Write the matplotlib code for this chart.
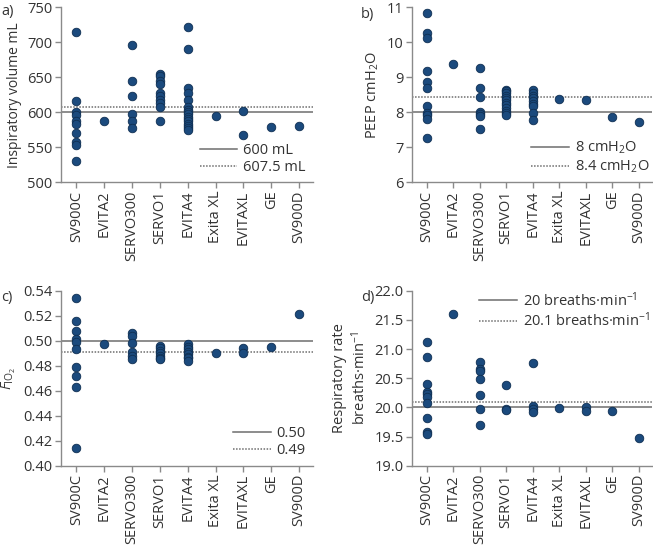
import matplotlib
matplotlib.use("Agg")
import matplotlib.pyplot as plt
from matplotlib.lines import Line2D

plt.rcParams['font.family'] = ['Open Sans', 'DejaVu Sans']
plt.rcParams['mathtext.fontset'] = 'custom'
plt.rcParams['mathtext.rm'] = 'Open Sans'
plt.rcParams['mathtext.it'] = 'Open Sans:italic'

categories = ["SV900C", "EVITA2", "SERVO300", "SERVO1", "EVITA4",
              "Exita XL", "EVITAXL", "GE", "SV900D"]

# a) Inspiratory volume (mL)
vol = {
    "SV900C": [715, 616, 600, 596, 588, 583, 571, 557, 553, 530],
    "EVITA2": [587],
    "SERVO300": [696, 645, 623, 597, 588, 577],
    "SERVO1": [655, 652, 645, 641, 628, 624, 618, 613, 608, 587],
    "EVITA4": [722, 690, 635, 628, 618, 607, 604, 600, 597, 594, 590, 587, 584, 580, 577, 575],
    "Exita XL": [595],
    "EVITAXL": [602, 567],
    "GE": [579],
    "SV900D": [581],
}
vol_ref = [600, 607.5]
vol_ref_labels = ["600 mL", "607.5 mL"]

# b) PEEP (cmH2O)
peep = {
    "SV900C": [10.85, 10.27, 10.12, 9.18, 8.88, 8.70, 8.18, 7.98, 7.92, 7.82, 7.27],
    "EVITA2": [9.38],
    "SERVO300": [9.28, 8.69, 8.45, 8.02, 7.95, 7.89, 7.52],
    "SERVO1": [8.65, 8.60, 8.55, 8.48, 8.42, 8.35, 8.28, 8.20, 8.12, 8.05, 7.98, 7.93],
    "EVITA4": [8.63, 8.56, 8.48, 8.40, 8.32, 8.24, 8.17, 7.97, 7.79],
    "Exita XL": [8.39],
    "EVITAXL": [8.34],
    "GE": [7.88],
    "SV900D": [7.71],
}
peep_ref = [8.0, 8.44]
peep_ref_labels = ["8 cmH$_2$O", "8.4 cmH$_2$O"]

# c) FiO2
fio2 = {
    "SV900C": [0.534, 0.516, 0.508, 0.501, 0.499, 0.493, 0.479, 0.472, 0.463, 0.414],
    "EVITA2": [0.497],
    "SERVO300": [0.506, 0.504, 0.498, 0.491, 0.488, 0.485],
    "SERVO1": [0.496, 0.494, 0.492, 0.490, 0.488, 0.486, 0.485],
    "EVITA4": [0.497, 0.495, 0.493, 0.491, 0.489, 0.487, 0.486, 0.484],
    "Exita XL": [0.490],
    "EVITAXL": [0.494, 0.490],
    "GE": [0.495],
    "SV900D": [0.521],
}
fio2_ref = [0.500, 0.491]
fio2_ref_labels = ["0.50", "0.49"]

# d) Respiratory rate (breaths/min)
rr = {
    "SV900C": [21.12, 20.87, 20.40, 20.27, 20.23, 20.17, 20.07, 19.82, 19.58, 19.55],
    "EVITA2": [21.6],
    "SERVO300": [20.77, 20.66, 20.62, 20.49, 20.21, 19.98, 19.70],
    "SERVO1": [20.38, 19.98, 19.95],
    "EVITA4": [20.76, 20.02, 19.97, 19.92],
    "Exita XL": [19.99],
    "EVITAXL": [20.00, 19.93],
    "GE": [19.93],
    "SV900D": [19.48],
}
rr_ref = [20.0, 20.1]
rr_ref_labels = ["20 breaths\u00b7min$^{-1}$", "20.1 breaths\u00b7min$^{-1}$"]

MARK = '#1b4a7d'
EDGE = '#0f2f52'
SPINE = '#8a8a8a'
TXT = '#333333'
REF = '#6e6e6e'

fig = plt.figure(figsize=(6.53, 5.45), dpi=100)

h = 0.3211
axes_pos = {
    'a': [0.0934, 0.6655, 0.386, h],
    'b': [0.6309, 0.6655, 0.368, h],
    'c': [0.0934, 0.1455, 0.386, h],
    'd': [0.6309, 0.1455, 0.368, h],
}


def panel(key, data, ylim, yticks, yticklabels, ylabel, refs, reflabels, legloc, legpos,
          ylabel_size=10.5):
    ax = fig.add_axes(axes_pos[key])
    for i, c in enumerate(categories):
        vals = data[c]
        ax.scatter([i] * len(vals), vals, s=38, color=MARK, edgecolor=EDGE,
                   linewidth=0.6, zorder=3)
    ax.axhline(refs[0], color=REF, lw=1.1, zorder=1)
    ax.axhline(refs[1], color=REF, lw=1.1, ls=(0, (1.0, 1.0)), zorder=1)
    ax.set_xlim(-0.55, 8.5)
    ax.set_ylim(*ylim)
    ax.set_yticks(yticks)
    ax.set_yticklabels(yticklabels)
    ax.set_xticks(range(len(categories)))
    ax.set_xticklabels(categories, rotation=90)
    for s in ['top', 'right']:
        ax.spines[s].set_visible(False)
    for s in ['left', 'bottom']:
        ax.spines[s].set_color(SPINE)
        ax.spines[s].set_linewidth(1.0)
    ax.tick_params(axis='both', colors=SPINE, labelcolor=TXT, labelsize=10.5,
                   length=4, width=1.0, pad=2)
    ax.set_ylabel(ylabel, fontsize=ylabel_size, color=TXT, labelpad=4)
    handles = [Line2D([], [], color=REF, lw=1.1),
               Line2D([], [], color=REF, lw=1.1, ls=(0, (1.0, 1.0)))]
    leg = ax.legend(handles, reflabels, loc=legloc, bbox_to_anchor=legpos,
                    frameon=False, fontsize=10.5, handlelength=2.6,
                    handletextpad=0.4, labelspacing=0.15, borderaxespad=0.1)
    for t in leg.get_texts():
        t.set_color(TXT)
    return ax


panel('a', vol, (500, 750), [500, 550, 600, 650, 700, 750],
      ['500', '550', '600', '650', '700', '750'],
      'Inspiratory volume mL', vol_ref, vol_ref_labels, 'lower right', (1.0, 0.0),
      ylabel_size=10)
panel('b', peep, (6, 11), [6, 7, 8, 9, 10, 11],
      ['6', '7', '8', '9', '10', '11'],
      'PEEP cmH$_2$O', peep_ref, peep_ref_labels, 'lower right', (1.02, 0.0))
panel('c', fio2, (0.40, 0.54), [0.40, 0.42, 0.44, 0.46, 0.48, 0.50, 0.52, 0.54],
      ['0.40', '0.42', '0.44', '0.46', '0.48', '0.50', '0.52', '0.54'],
      r'$\mathit{F}_{\mathrm{IO}_2}$', fio2_ref, fio2_ref_labels, 'lower right', (1.0, 0.0))
panel('d', rr, (19.0, 22.0), [19.0, 19.5, 20.0, 20.5, 21.0, 21.5, 22.0],
      ['19.0', '19.5', '20.0', '20.5', '21.0', '21.5', '22.0'],
      'Respiratory rate\nbreaths\u00b7min$^{-1}$', rr_ref, rr_ref_labels, 'upper right', (1.02, 1.04))

for lab, x, y in [('a)', 0.002, 0.992), ('b)', 0.553, 0.988),
                  ('c)', 0.002, 0.467), ('d)', 0.553, 0.467)]:
    fig.text(x, y, lab, fontsize=10.5, color=TXT, va='top', ha='left')

fig.savefig('out.png', dpi=100)
